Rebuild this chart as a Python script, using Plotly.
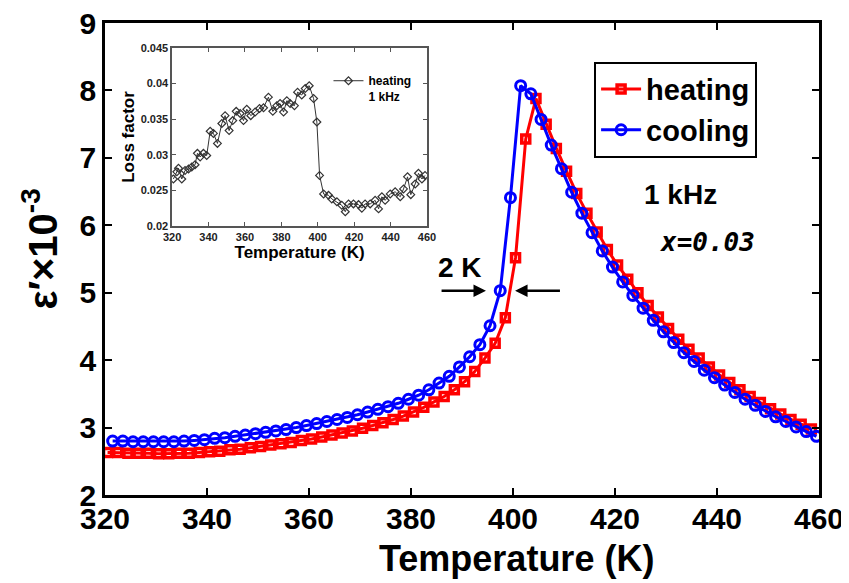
import plotly.graph_objects as go

# ---------------- data ----------------
heat_T = [320.5, 322.5, 324.5, 326.5, 328.5, 330.5, 332.5, 334.5, 336.5, 338.5,
          340.5, 342.5, 344.5, 346.5, 348.5, 350.5, 352.5, 354.5, 356.5, 358.5,
          360.5, 362.5, 364.5, 366.5, 368.5, 370.5, 372.5, 374.5, 376.5, 378.5,
          380.5, 382.5, 384.5, 386.5, 388.5, 390.5, 392.5, 394.5, 396.5, 398.5,
          400.5, 402.5, 404.5, 406.5, 408.5, 410.5, 412.5, 414.5, 416.5, 418.5,
          420.5, 422.5, 424.5, 426.5, 428.5, 430.5, 432.5, 434.5, 436.5, 438.5,
          440.5, 442.5, 444.5, 446.5, 448.5, 450.5, 452.5, 454.5, 456.5, 458.5]
heat_eps = [2.63, 2.63, 2.62, 2.62, 2.62, 2.61, 2.61, 2.62, 2.62, 2.63,
            2.64, 2.65, 2.67, 2.68, 2.70, 2.72, 2.74, 2.76, 2.78, 2.81,
            2.83, 2.86, 2.89, 2.92, 2.95, 2.99, 3.03, 3.07, 3.12, 3.17,
            3.23, 3.30, 3.38, 3.46, 3.56, 3.68, 3.83, 4.03, 4.25, 4.63,
            5.52, 7.28, 7.88, 7.50, 7.14, 6.80, 6.47, 6.18, 5.90, 5.64,
            5.41, 5.20, 5.00, 4.81, 4.64, 4.47, 4.31, 4.16, 4.03, 3.90,
            3.78, 3.67, 3.56, 3.46, 3.37, 3.28, 3.20, 3.12, 3.05, 2.98]

cool_T = [321.5, 323.5, 325.5, 327.5, 329.5, 331.5, 333.5, 335.5, 337.5, 339.5,
          341.5, 343.5, 345.5, 347.5, 349.5, 351.5, 353.5, 355.5, 357.5, 359.5,
          361.5, 363.5, 365.5, 367.5, 369.5, 371.5, 373.5, 375.5, 377.5, 379.5,
          381.5, 383.5, 385.5, 387.5, 389.5, 391.5, 393.5, 395.5, 397.5, 399.5,
          401.5, 403.5, 405.5, 407.5, 409.5, 411.5, 413.5, 415.5, 417.5, 419.5,
          421.5, 423.5, 425.5, 427.5, 429.5, 431.5, 433.5, 435.5, 437.5, 439.5,
          441.5, 443.5, 445.5, 447.5, 449.5, 451.5, 453.5, 455.5, 457.5, 459.5]
cool_eps = [2.80, 2.80, 2.79, 2.79, 2.79, 2.79, 2.79, 2.80, 2.81, 2.82,
            2.84, 2.85, 2.87, 2.89, 2.91, 2.93, 2.95, 2.97, 3.00, 3.03,
            3.06, 3.09, 3.12, 3.15, 3.19, 3.23, 3.27, 3.31, 3.36, 3.42,
            3.48, 3.56, 3.66, 3.76, 3.90, 4.05, 4.23, 4.51, 5.03, 6.41,
            8.07, 7.95, 7.57, 7.19, 6.84, 6.49, 6.18, 5.89, 5.62, 5.38,
            5.16, 4.96, 4.77, 4.59, 4.42, 4.26, 4.11, 3.98, 3.85, 3.74,
            3.63, 3.52, 3.42, 3.33, 3.24, 3.16, 3.09, 3.01, 2.94, 2.87]

loss_T = [320.7, 322.6, 323.5, 325.3, 327.1, 329.0, 330.8, 332.6, 333.9, 335.4,
          337.2, 339.0, 340.9, 342.7, 344.9, 347.3, 349.1, 351.3, 353.3, 355.2,
          357.4, 359.2, 361.0, 363.2, 365.6, 368.0, 370.2, 372.9, 375.3, 377.5,
          379.3, 381.2, 383.0, 384.8, 387.2, 388.9, 391.2, 393.1, 395.3, 397.7,
          399.5, 401.0, 403.2, 405.9, 407.7, 410.5, 413.2, 415.1, 416.9, 419.6,
          422.4, 424.2, 426.0, 428.8, 431.5, 433.4, 435.2, 437.0, 439.8, 442.5,
          445.3, 447.1, 449.3, 451.1, 453.5, 455.3, 457.2, 458.9]
loss_val = [0.0266, 0.0276, 0.0281, 0.0266, 0.0278, 0.0280, 0.0283, 0.0286, 0.0302, 0.0297,
            0.0302, 0.0299, 0.0333, 0.0330, 0.0316, 0.0344, 0.0355, 0.0334, 0.0348, 0.0361,
            0.0358, 0.0348, 0.0364, 0.0355, 0.0360, 0.0365, 0.0366, 0.0381, 0.0361, 0.0369,
            0.0372, 0.0360, 0.0376, 0.0372, 0.0369, 0.0388, 0.0384, 0.0393, 0.0397, 0.0379,
            0.0346, 0.0271, 0.0245, 0.0243, 0.0238, 0.0234, 0.0229, 0.0220, 0.0231, 0.0231,
            0.0230, 0.0225, 0.0231, 0.0231, 0.0236, 0.0224, 0.0241, 0.0236, 0.0245, 0.0248,
            0.0241, 0.0252, 0.0269, 0.0244, 0.0259, 0.0274, 0.0266, 0.0271]

x_ticks = [320, 340, 360, 380, 400, 420, 440, 460]
y_ticks = [2, 3, 4, 5, 6, 7, 8, 9]
inset_y_ticks = [0.02, 0.025, 0.03, 0.035, 0.04, 0.045]
inset_y_labels = ["0.02", "0.025", "0.03", "0.035", "0.04", "0.045"]

FONT = "Liberation Sans, Arial, sans-serif"
NARROW = "Liberation Sans Narrow, Liberation Sans, Arial, sans-serif"

fig = go.Figure()

fig.add_trace(go.Scatter(
    x=heat_T, y=heat_eps, mode="lines+markers", name="heating",
    line=dict(color="#FF0000", width=3),
    marker=dict(symbol="square-open", size=8, color="#FF0000",
                line=dict(width=3.5, color="#FF0000")),
))
fig.add_trace(go.Scatter(
    x=cool_T, y=cool_eps, mode="lines+markers", name="cooling",
    line=dict(color="#0000FF", width=3),
    marker=dict(symbol="circle-open", size=10, color="#0000FF",
                line=dict(width=3, color="#0000FF")),
))
fig.add_trace(go.Scatter(
    x=loss_T, y=loss_val, mode="lines+markers", name="heating<br>1 kHz",
    xaxis="x2", yaxis="y2", legend="legend2",
    line=dict(color="#333333", width=1),
    marker=dict(symbol="diamond-open", size=6, color="#333333",
                line=dict(width=1.2, color="#333333")),
))

main_axis = dict(
    showline=True, linecolor="black", linewidth=2.5, mirror="ticks",
    ticks="inside", ticklen=7, tickwidth=2, tickcolor="black",
    showgrid=False, zeroline=False, automargin=False,
    ticklabeloverflow="allow",
    tickfont=dict(family=FONT, size=30, color="black", weight="bold"),
)

# the page body adds an 8 px offset; the figure is sized so that the
# plot area lands at x 105-819, y 23-495 of the window
fig.update_layout(
    width=841, height=575,
    margin=dict(l=97, r=30, t=15, b=88),
    paper_bgcolor="white", plot_bgcolor="white",
    xaxis=dict(range=[320, 460], tickvals=x_ticks, ticklabelstandoff=-5, **main_axis),
    yaxis=dict(range=[2, 9], tickvals=y_ticks, **main_axis),
    xaxis2=dict(
        domain=[0.094, 0.451], anchor="y2", range=[320, 460], tickvals=x_ticks,
        showline=True, linecolor="#555555", linewidth=1.5, mirror="ticks",
        ticks="inside", ticklen=4, tickwidth=1, tickcolor="#555555",
        showgrid=False, zeroline=False, automargin=False,
        tickfont=dict(family=NARROW, size=11, color="#222222", weight="bold"),
        title=dict(text="Temperature (K)", standoff=0,
                   font=dict(family=FONT, size=17, color="black", weight="bold")),
    ),
    yaxis2=dict(
        domain=[0.57, 0.947], anchor="x2", range=[0.02, 0.045],
        tickvals=inset_y_ticks, ticktext=inset_y_labels,
        showline=True, linecolor="#555555", linewidth=1.5, mirror="ticks",
        ticks="inside", ticklen=4, tickwidth=1, tickcolor="#555555",
        showgrid=False, zeroline=False, automargin=False,
        tickfont=dict(family=NARROW, size=11, color="#222222", weight="bold"),
        title=dict(text="Loss factor", standoff=2,
                   font=dict(family=FONT, size=17, color="black", weight="bold")),
    ),
    legend=dict(
        x=0.685, y=0.918, xanchor="left", yanchor="top",
        bordercolor="black", borderwidth=2, bgcolor="white",
        font=dict(family=FONT, size=29, color="black", weight="bold"),
        tracegroupgap=0, itemwidth=40,
    ),
    legend2=dict(
        x=0.313, y=0.908, xanchor="left", yanchor="top",
        bgcolor="rgba(0,0,0,0)", borderwidth=0, valign="top",
        font=dict(family=FONT, size=12, color="black", weight="bold"),
    ),
    showlegend=True,
)

annotations = [
    dict(text="Temperature (K)", xref="paper", yref="paper", x=0.577, y=-0.134,
         xanchor="center", yanchor="middle", showarrow=False,
         font=dict(family=FONT, size=36, color="black", weight="bold")),
    dict(text="ε′×10<sup>-3</sup>", xref="paper", yref="paper", x=-0.091, y=0.52,
         xanchor="center", yanchor="middle", showarrow=False, textangle=-90,
         font=dict(family=FONT, size=40, color="black", weight="bold")),
    dict(text="1 kHz", xref="x", yref="y", x=432.9, y=6.45, showarrow=False,
         xanchor="center", yanchor="middle",
         font=dict(family=FONT, size=28, color="black", weight="bold")),
    dict(text="<i>x=0.03</i>", xref="x", yref="y", x=438.2, y=5.75, showarrow=False,
         xanchor="center", yanchor="middle",
         font=dict(family="DejaVu Sans Mono, monospace", size=26, color="black", weight="bold")),
    dict(text="2 K", xref="x", yref="y", x=389.6, y=5.37, showarrow=False,
         xanchor="center", yanchor="middle",
         font=dict(family=FONT, size=28, color="black", weight="bold")),
    dict(text="", xref="x", yref="y", x=394.7, y=5.03, axref="x", ayref="y",
         ax=385.7, ay=5.03, showarrow=True, arrowhead=2, arrowsize=1,
         arrowwidth=2.5, arrowcolor="black"),
    dict(text="", xref="x", yref="y", x=400.4, y=5.03, axref="x", ayref="y",
         ax=409.5, ay=5.03, showarrow=True, arrowhead=2, arrowsize=1,
         arrowwidth=2.5, arrowcolor="black"),
]
fig.update_layout(annotations=annotations)

fig.write_html("out.html")
